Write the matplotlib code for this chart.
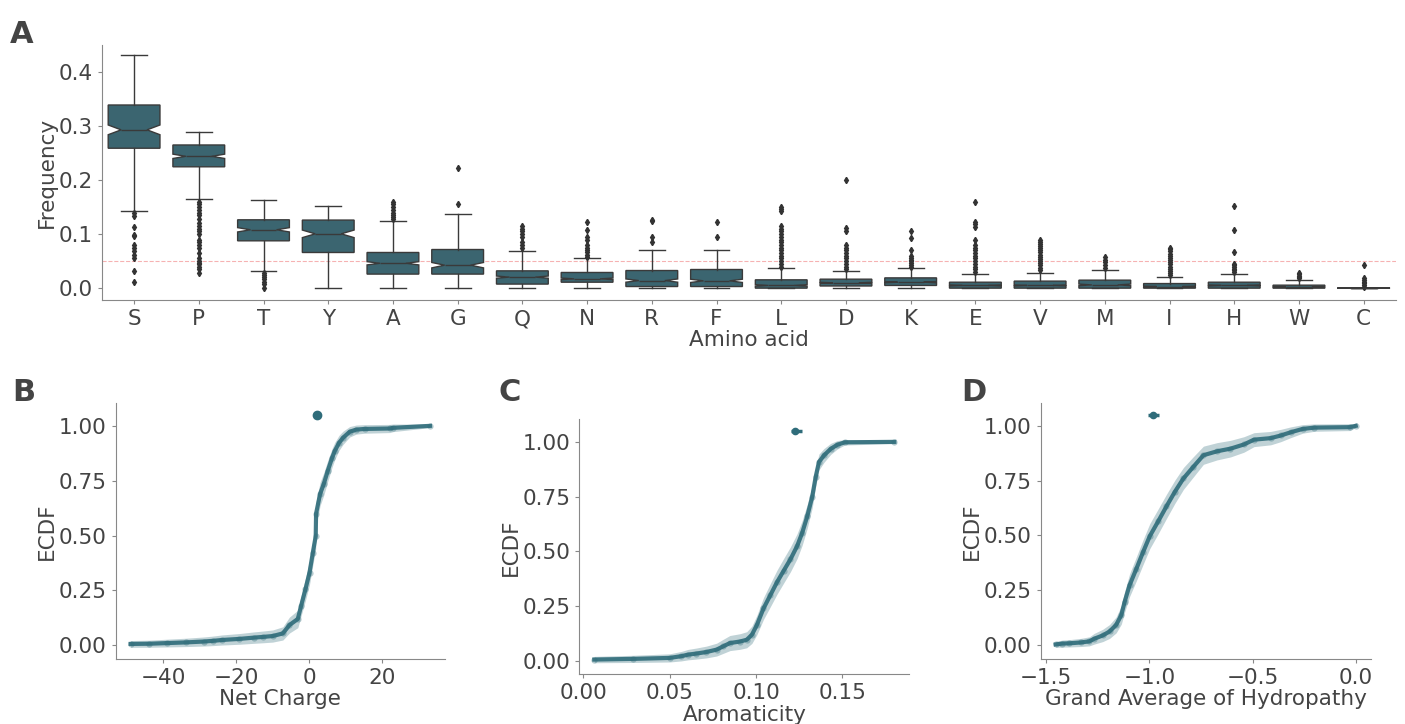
import numpy as np
import matplotlib
matplotlib.use("Agg")
import matplotlib.pyplot as plt

# ---- data ----
amino = ["S", "P", "T", "Y", "A", "G", "Q", "N", "R", "F",
         "L", "D", "K", "E", "V", "M", "I", "H", "W", "C"]

whislo = [0.143, 0.165, 0.0326, 0.0, 0.0, 0.0, 0.0, 0.0, 0.0, 0.0,
          0.0, 0.0, 0.0, 0.0, 0.0, 0.0, 0.0, 0.0, 0.0, 0.0]
q1 = [0.259, 0.2246, 0.0876, 0.066, 0.026, 0.026, 0.0075, 0.011, 0.003, 0.003,
      0.0, 0.004, 0.005, 0.0, 0.0, 0.0, 0.0, 0.0, 0.0, 0.0]
med = [0.293, 0.244, 0.108, 0.1005, 0.046, 0.0425, 0.0204, 0.0172, 0.014, 0.0135,
       0.005, 0.0098, 0.011, 0.005, 0.005, 0.006, 0.003, 0.005, 0.002, 0.0]
q3 = [0.339, 0.265, 0.1265, 0.126, 0.066, 0.0715, 0.032, 0.029, 0.0326, 0.0345,
      0.0154, 0.0166, 0.019, 0.011, 0.013, 0.0148, 0.0085, 0.011, 0.0055, 0.0006]
whishi = [0.431, 0.289, 0.1635, 0.152, 0.1245, 0.1375, 0.068, 0.055, 0.0697, 0.0715,
          0.0376, 0.032, 0.038, 0.027, 0.0278, 0.0345, 0.0197, 0.0265, 0.0148, 0.001]
notch_half = [0.009, 0.004, 0.004, 0.007, 0.003, 0.005, 0.002, 0.0015, 0.003, 0.003,
              0.0015, 0.001, 0.0012, 0.001, 0.001, 0.0015, 0.0008, 0.001, 0.0005, 0.0002]
fliers = [
    [0.139, 0.133, 0.114, 0.099, 0.096, 0.080, 0.074, 0.068, 0.062, 0.056, 0.031, 0.012],
    [0.16, 0.155, 0.15, 0.145, 0.14, 0.135, 0.128, 0.12, 0.115, 0.11, 0.105, 0.1, 0.09,
     0.085, 0.08, 0.075, 0.065, 0.055, 0.05, 0.047, 0.044, 0.04, 0.035, 0.028],
    [0.028, 0.024, 0.02, 0.016, 0.012, 0.008, 0.0],
    [],
    [0.128, 0.132, 0.136, 0.14, 0.145, 0.15, 0.155, 0.16],
    [0.155, 0.222],
    [0.075, 0.08, 0.085, 0.095, 0.1, 0.105, 0.11, 0.115],
    [0.058, 0.062, 0.066, 0.07, 0.075, 0.08, 0.089, 0.095, 0.108, 0.123],
    [0.085, 0.094, 0.124, 0.127],
    [0.095, 0.123],
    [0.04, 0.045, 0.05, 0.055, 0.06, 0.065, 0.07, 0.075, 0.08, 0.085, 0.09, 0.095,
     0.1, 0.105, 0.11, 0.115, 0.142, 0.146, 0.151],
    [0.035, 0.04, 0.045, 0.05, 0.055, 0.06, 0.065, 0.07, 0.075, 0.08, 0.105, 0.111, 0.2005],
    [0.04, 0.043, 0.046, 0.05, 0.053, 0.056, 0.06, 0.07, 0.093, 0.106],
    [0.03, 0.035, 0.04, 0.045, 0.05, 0.055, 0.06, 0.065, 0.07, 0.075, 0.08, 0.0895,
     0.114, 0.118, 0.123, 0.159],
    [0.034, 0.038, 0.042, 0.046, 0.05, 0.054, 0.058, 0.062, 0.066, 0.07, 0.074,
     0.078, 0.082, 0.086, 0.0895],
    [0.038, 0.042, 0.048, 0.052, 0.057],
    [0.0246, 0.028, 0.032, 0.036, 0.04, 0.044, 0.048, 0.052, 0.056, 0.06, 0.064,
     0.068, 0.072, 0.074],
    [0.03, 0.033, 0.036, 0.039, 0.042, 0.045, 0.067, 0.107, 0.152],
    [0.0185, 0.021, 0.023, 0.0255, 0.0278],
    [0.003, 0.006, 0.009, 0.012, 0.015, 0.0185, 0.0426],
]

# ECDF curves (x value, ECDF level)
charge_x = [-48.9, -43.8, -38.8, -33.8, -28.9, -26.4, -23.9, -19.1, -15.0, -12.7,
            -10.0, -7.2, -5.4, -3.1, -2.2, -1.0, 0.1, 1.0, 1.8, 1.9, 3.0, 4.0,
            5.1, 6.3, 7.0, 8.2, 9.3, 11.1, 12.9, 15.2, 22.1, 23.0, 33.1]
charge_y = [0.006, 0.007, 0.010, 0.013, 0.017, 0.020, 0.024, 0.029, 0.035, 0.038,
            0.042, 0.054, 0.092, 0.120, 0.180, 0.256, 0.331, 0.421, 0.497, 0.600,
            0.690, 0.735, 0.795, 0.855, 0.885, 0.923, 0.946, 0.973, 0.983, 0.986,
            0.988, 0.991, 1.0]
arom_x = [0.0064, 0.0286, 0.050, 0.0568, 0.0606, 0.0655, 0.0713, 0.0772, 0.081,
          0.0849, 0.0907, 0.0946, 0.0976, 0.1005, 0.1043, 0.1082, 0.1121, 0.116,
          0.1199, 0.1238, 0.1267, 0.1296, 0.1325, 0.1345, 0.1364, 0.1393, 0.1432,
          0.1471, 0.1513, 0.180]
arom_y = [0.0045, 0.0075, 0.012, 0.020, 0.027, 0.032, 0.039, 0.050, 0.065, 0.080,
          0.087, 0.095, 0.118, 0.163, 0.238, 0.298, 0.358, 0.411, 0.463, 0.524,
          0.584, 0.659, 0.749, 0.840, 0.908, 0.938, 0.968, 0.987, 0.998, 1.0]
gravy_x = [-1.454, -1.421, -1.389, -1.332, -1.291, -1.267, -1.226, -1.193, -1.161,
           -1.136, -1.12, -1.096, -1.063, -1.031, -0.998, -0.957, -0.917, -0.876,
           -0.835, -0.787, -0.738, -0.672, -0.607, -0.542, -0.493, -0.412, -0.363,
           -0.314, -0.257, -0.2, -0.029, 0.0]
gravy_y = [0.003, 0.007, 0.008, 0.012, 0.017, 0.029, 0.044, 0.062, 0.092, 0.137,
           0.197, 0.273, 0.348, 0.423, 0.497, 0.565, 0.633, 0.700, 0.760, 0.813,
           0.866, 0.884, 0.896, 0.915, 0.937, 0.944, 0.956, 0.971, 0.986, 0.992,
           0.994, 1.0]
# median with confidence interval shown above the curves
summary_mid = [2.1, 0.1228, -0.982]
summary_lo = [1.6, 0.120, -1.006]
summary_hi = [2.6, 0.1267, -0.953]
n_seq = 400

xlabels = ["Net Charge", "Aromaticity", "Grand Average of Hydropathy"]
panel_letters = ["B", "C", "D"]

# ---- style ----
TXT = "#444444"
SPINE = "#888888"
BOX = "#3b6570"
LINE = "#2f6c7a"
plt.rcParams.update({
    "font.family": "DejaVu Sans",
    "font.size": 15.5,
    "text.color": TXT,
    "axes.labelcolor": TXT,
    "xtick.color": SPINE,
    "ytick.color": SPINE,
    "xtick.labelcolor": TXT,
    "ytick.labelcolor": TXT,
    "axes.edgecolor": SPINE,
})

fig = plt.figure(figsize=(14.05, 7.24), dpi=100)

# ---- panel A ----
ax = fig.add_axes([0.0724, 0.5856, 0.9212, 0.3522])
stats = []
for i in range(len(amino)):
    stats.append(dict(med=med[i], q1=q1[i], q3=q3[i], whislo=whislo[i], whishi=whishi[i],
                      cilo=med[i] - notch_half[i], cihi=med[i] + notch_half[i],
                      fliers=fliers[i], label=amino[i]))
ax.bxp(stats, positions=np.arange(len(amino)), widths=0.8, shownotches=True,
       patch_artist=True, showfliers=True,
       boxprops=dict(facecolor=BOX, edgecolor="#3a3a3a", linewidth=1.0),
       medianprops=dict(color="#3a3a3a", linewidth=1.0),
       whiskerprops=dict(color="#3a3a3a", linewidth=1.0),
       capprops=dict(color="#3a3a3a", linewidth=1.0),
       flierprops=dict(marker="d", markersize=3.2, markerfacecolor="#333333",
                       markeredgecolor="#333333"))
ax.axhline(0.05, color="#f08080", alpha=0.6, linestyle="--", linewidth=0.8, zorder=0)
ax.set_xlim(-0.5, len(amino) - 0.5)
ax.set_ylim(-0.022, 0.45)
ax.set_yticks([0.0, 0.1, 0.2, 0.3, 0.4])
ax.set_xticks(np.arange(len(amino)))
ax.set_xticklabels(amino)
ax.set_xlabel("Amino acid", labelpad=1)
ax.set_ylabel("Frequency", labelpad=1)
ax.spines[["top", "right"]].set_visible(False)
ax.tick_params(length=3, width=0.8)
fig.text(0.007, 0.952, "A", fontsize=22, fontweight="bold", color=TXT, va="center")

# ---- panels B, C, D ----
positions = [[0.0823, 0.0898, 0.2344, 0.3532],
             [0.4123, 0.0686, 0.2349, 0.3522],
             [0.7407, 0.0898, 0.2349, 0.3532]]
curves = [(charge_x, charge_y), (arom_x, arom_y), (gravy_x, gravy_y)]
letter_x = [0.009, 0.355, 0.684]
for k in range(3):
    axk = fig.add_axes(positions[k])
    x = np.array(curves[k][0])
    F = np.array(curves[k][1])
    half = 1.96 * np.sqrt(F * (1 - F) / n_seq) + 0.008
    axk.fill_between(x, F - half, F + half, color=LINE, alpha=0.3, linewidth=0)
    axk.plot(x, F, color=LINE, linewidth=3, alpha=0.9)
    axk.plot(x, F, "o", color=LINE, markersize=4.5, alpha=0.35, markeredgewidth=0)
    err = [[summary_mid[k] - summary_lo[k]], [summary_hi[k] - summary_mid[k]]]
    axk.errorbar([summary_mid[k]], [1.05], xerr=err, fmt="o", color=LINE,
                 markersize=6 if k == 0 else 4.5, elinewidth=2.5, capsize=0)
    axk.set_yticks([0.0, 0.25, 0.5, 0.75, 1.0])
    axk.set_yticklabels(["0.00", "0.25", "0.50", "0.75", "1.00"])
    axk.set_ylabel("ECDF", labelpad=1)
    axk.set_xlabel(xlabels[k], labelpad=1)
    axk.spines[["top", "right"]].set_visible(False)
    axk.tick_params(length=3, width=0.8)
    fig.text(letter_x[k], 0.458, panel_letters[k], fontsize=22, fontweight="bold",
             color=TXT, va="center")

axs = fig.axes
axs[1].set_xticks([-40, -20, 0, 20])
axs[2].set_xticks([0.0, 0.05, 0.10, 0.15])
axs[2].set_xticklabels(["0.00", "0.05", "0.10", "0.15"])
axs[3].set_xticks([-1.5, -1.0, -0.5, 0.0])

fig.savefig("out.png", dpi=100)
